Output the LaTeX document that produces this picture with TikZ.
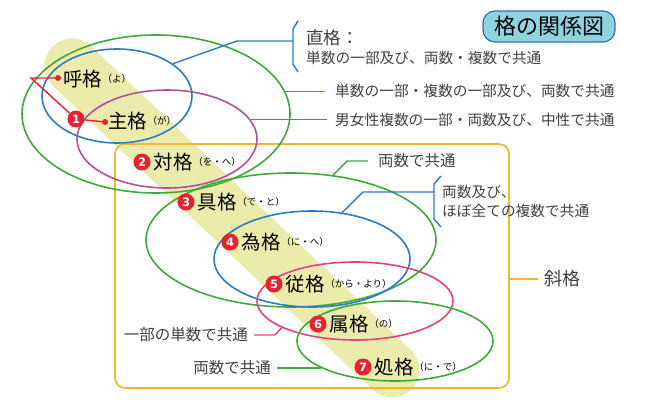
\documentclass[tikz,border=0pt]{standalone}
\usepackage{fontspec}
\setmainfont{Noto Sans CJK JP}
\newfontfamily\numfont{DejaVu Sans}
\usetikzlibrary{shapes.geometric,positioning}

\definecolor{cgreen}{HTML}{3DAA3A}
\definecolor{cblue}{HTML}{2B7CC3}
\definecolor{cpurple}{HTML}{B44E9F}
\definecolor{cpink}{HTML}{E2417E}
\definecolor{corange}{HTML}{F5B62D}
\definecolor{cred}{HTML}{E3232F}
\definecolor{cband}{HTML}{EBEBAC}
\definecolor{ctitle}{HTML}{8FD3E3}
\definecolor{ctitleedge}{HTML}{2F6DB2}
\definecolor{ctext}{HTML}{404040}

\begin{document}
\begin{tikzpicture}[x=1pt,y=-1pt,
  ring/.style={ellipse, draw, line width=1.6pt, inner sep=0pt},
  link/.style={line width=1.4pt},
  note/.style={font=\fontsize{14.7}{16}\selectfont, text=ctext, inner sep=0pt, anchor=west},
  bignote/.style={font=\fontsize{15.5}{17}\selectfont, text=ctext, inner sep=0pt},
  casename/.style={font=\fontsize{19.5}{21}\selectfont, inner sep=0pt, anchor=west},
  reading/.style={font=\fontsize{9.5}{11}\selectfont, inner sep=0pt, anchor=west},
  num/.style={circle, fill=cred, text=white, inner sep=0pt, minimum size=17pt,
              font=\numfont\bfseries\fontsize{11.5}{11.5}\selectfont},
  reddot/.style={circle, fill=cred, inner sep=0pt, minimum size=6pt},
]
\useasboundingbox (0,0) rectangle (650,404);

% diagonal highlight band
\coordinate (bandA) at (72,66);
\coordinate (bandB) at (392,370);
\draw[cband, line width=55pt, line cap=round] (bandA) -- (bandB);

% oblique cases frame
\node[draw=corange, line width=1.6pt, rounded corners=10pt,
      minimum width=394pt, minimum height=244pt] (oblique) at (312,266) {};

% title
\node[draw=ctitleedge, fill=ctitle, rounded corners=12pt, line width=1.2pt,
      minimum width=132pt, minimum height=31pt,
      font=\fontsize{22}{24}\selectfont] (title) at (549,26.5) {格の関係図};

% rings
\node[ring, draw=cgreen,  minimum width=268pt, minimum height=158pt] (gTop)  at (156,114) {};
\node[ring, draw=cblue,   minimum width=150pt, minimum height=94pt]  (bTop)  at (117,96) {};
\node[ring, draw=cpurple, minimum width=180pt, minimum height=98pt]  (mTop)  at (167,139) {};
\node[ring, draw=cgreen,  minimum width=290pt, minimum height=134pt] (gMid)  at (291,240) {};
\node[ring, draw=cblue,   minimum width=196pt, minimum height=96pt]  (bMid)  at (312,259) {};
\node[ring, draw=cpink,   minimum width=196pt, minimum height=78pt]  (pLow)  at (355,301) {};
\node[ring, draw=cgreen,  minimum width=196pt, minimum height=80pt]  (gLow)  at (395,341) {};

% annotations
\node[font=\fontsize{17.5}{19}\selectfont, text=ctext, inner sep=0pt, anchor=west] (tDirect) at (306,38) {直格：};
\node[note] (tDirect2) at (306,58) {単数の一部及び、両数・複数で共通};
\node[note] (tGreenTop) at (335,91) {単数の一部・複数の一部及び、両数で共通};
\node[note] (tPurple) at (335,120) {男女性複数の一部・両数及び、中性で共通};
\node[bignote, anchor=west] (tDual1) at (378,161) {両数で共通};
\node[note] (tBlue2a) at (442,192) {両数及び、};
\node[note] (tBlue2b) at (442,211) {ほぼ全ての複数で共通};
\node[font=\fontsize{18}{20}\selectfont, text=ctext, inner sep=0pt, anchor=west] (tOblique) at (544,279) {斜格};
\node[bignote, anchor=east] (tSing) at (248,335) {一部の単数で共通};
\node[bignote, anchor=east] (tDual2) at (271,368) {両数で共通};

% connectors: direct cases
\coordinate (k1) at (237,41);
\coordinate (br1) at (293,41);
\draw[link, cblue] (bTop.30) -- (k1) -- (br1);
\draw[link, cblue, line join=round] (298,21) -- (293,29) -- (293,64) -- (298,72);
\draw[link, cgreen] (gTop.10) -- ([xshift=-10pt]tGreenTop.west |- gTop.10);
\draw[link, cpurple] (mTop.13) -- ([xshift=-8pt]tPurple.west |- mTop.13);

% connectors: oblique cases
\draw[link, corange] (oblique.east |- tOblique.west) -- ([xshift=-6pt]tOblique.west);
\draw[link, cgreen] (gMid.57) -- (347,161) -- ([xshift=-10pt]tDual1.west);
\coordinate (br2) at (434,192);
\draw[link, cblue] (bMid.57) -- (363,192) -- (br2);
\draw[link, cblue, line join=round] (441,176) -- (434,184) -- (434,219) -- (441,227);
\draw[link, cpink] (pLow.200) -- (275,335) -- ([xshift=6pt]tSing.east);
\draw[link, cgreen] (gLow.200) -- ([xshift=6pt]tDual2.east |- gLow.200);

% case labels
\node[reddot] (d1) at (58,78) {};
\node[reddot] (d2) at (105,122) {};
\node[num] (n1) at (76,119) {1};
\coordinate (fork) at (31,78);
\draw[link, cred] (d1) -- (fork) -- (n1);
\draw[link, cred] (n1) -- (d2);

\node[casename] (c0) at (63,79) {呼格};
\node[reading] at (c0.east) {（よ）};
\node[casename] (c1) at (108,121) {主格};
\node[reading] at (c1.east) {（が）};

\node[num] (n2) at (142,162) {2};
\node[casename, right=3pt of n2] (c2) {対格};
\node[reading] at (c2.east) {（を・へ）};

\node[num] (n3) at (186,202) {3};
\node[casename, right=3pt of n3] (c3) {具格};
\node[reading] at (c3.east) {（で・と）};

\node[num] (n4) at (230,242) {4};
\node[casename, right=3pt of n4] (c4) {為格};
\node[reading] at (c4.east) {（に・へ）};

\node[num] (n5) at (274,284) {5};
\node[casename, right=3pt of n5] (c5) {従格};
\node[reading] at (c5.east) {（から・より）};

\node[num] (n6) at (318,324) {6};
\node[casename, right=3pt of n6] (c6) {属格};
\node[reading] at (c6.east) {（の）};

\node[num] (n7) at (363,367) {7};
\node[casename, right=3pt of n7] (c7) {処格};
\node[reading] at (c7.east) {（に・で）};

\end{tikzpicture}
\end{document}
